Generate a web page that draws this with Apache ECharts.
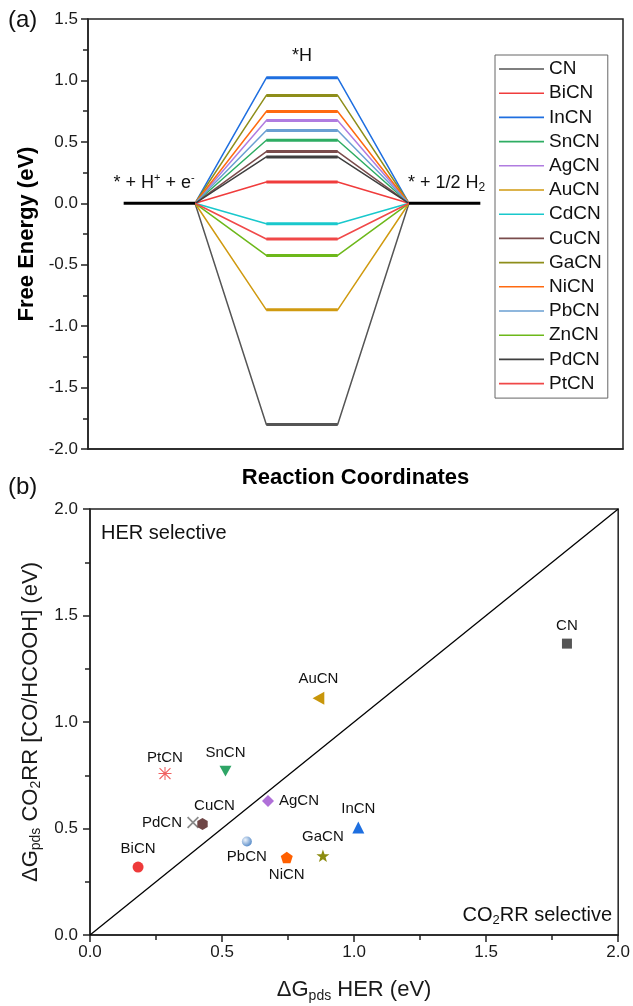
<!DOCTYPE html>
<html><head><meta charset="utf-8">
<script src="https://cdn.jsdelivr.net/npm/echarts@6/dist/echarts.min.js"></script>
<style>html,body{margin:0;padding:0;background:#fff}#c{width:633px;height:1006px}</style>
</head><body><div id="c"></div>
<script>
// ---------- data (a) ----------
const catalysts = ['CN','BiCN','InCN','SnCN','AgCN','AuCN','CdCN','CuCN','GaCN','NiCN','PbCN','ZnCN','PdCN','PtCN'];
const dGH = [-1.80, 0.174, 1.021, 0.513, 0.674, -0.867, -0.166, 0.421, 0.878, 0.747, 0.592, -0.424, 0.377, -0.291];
const stepX = [0.5, 1.5, 2.5, 3.5, 4.5, 5.5];   // reaction coordinate positions of level edges
const refLevel = 0;                              // * + H+ + e-  and  * + 1/2 H2
// ---------- data (b) ----------
const scatterNames = ['CN','AuCN','PtCN','SnCN','PdCN','CuCN','AgCN','InCN','BiCN','PbCN','NiCN','GaCN'];
const herVals = [1.806, 0.865, 0.284, 0.513, 0.390, 0.426, 0.674, 1.016, 0.182, 0.594, 0.745, 0.882];
const co2Vals = [1.368, 1.112, 0.758, 0.769, 0.528, 0.521, 0.629, 0.505, 0.319, 0.439, 0.364, 0.372];
const diagonal = [[0,0],[2,2]];

// ---------- styles ----------
const FONT = 'Liberation Sans, Arial, sans-serif';
const lineColors = {
  CN:'#555555', BiCN:'#F03C3C', InCN:'#1F6FE0', SnCN:'#2EAD63', AgCN:'#B07CE0', AuCN:'#D09A10',
  CdCN:'#19C8CC', CuCN:'#7A4C4C', GaCN:'#8E8E1A', NiCN:'#FF6A10', PbCN:'#6A9FD2', ZnCN:'#6DB81A',
  PdCN:'#3F3F3F', PtCN:'#F04848'
};
const P = {
  star: 'path://M5,0 L6.18,3.38 L9.76,3.45 L6.9,5.62 L7.94,9.05 L5,7 L2.06,9.05 L3.1,5.62 L0.24,3.45 L3.82,3.38 Z',
  pent: 'path://M5,0 L9.76,3.45 L7.94,9.05 L2.06,9.05 L0.24,3.45 Z',
  hex: 'path://M5,0 L9.33,2.5 L9.33,7.5 L5,10 L0.67,7.5 L0.67,2.5 Z',
  down: 'path://M0,0 L10,0 L5,9 Z',
  left: 'path://M9,0 L9,10 L0,5 Z',
  cross: 'path://M0,1 L1,0 L5,4 L9,0 L10,1 L6,5 L10,9 L9,10 L5,6 L1,10 L0,9 L4,5 Z',
  aster: 'path://M0,4.6 L10,4.6 L10,5.4 L0,5.4 Z M4.6,0 L5.4,0 L5.4,10 L4.6,10 Z M1.1,0.5 L9.5,8.9 L8.9,9.5 L0.5,1.1 Z M8.9,0.5 L9.5,1.1 L1.1,9.5 L0.5,8.9 Z'
};
const scatterStyle = {
  CN:   {symbol:'rect', size:10, color:'#555555', pos:'top'},
  AuCN: {symbol:P.left, size:13, color:'#C8960A', pos:'top'},
  PtCN: {symbol:P.aster, size:13, color:'#F06060', pos:'top', dist:2},
  SnCN: {symbol:P.down, size:12, color:'#2EA566', pos:'top'},
  PdCN: {symbol:P.cross, size:12, color:'#8A8A8A', pos:'left'},
  CuCN: {symbol:P.hex, size:12, color:'#6E4646', pos:'top', offset:[12,0]},
  AgCN: {symbol:'diamond', size:12, color:'#B070D8', pos:'right'},
  InCN: {symbol:'triangle', size:12, color:'#1E6FE0', pos:'top'},
  BiCN: {symbol:'circle', size:11, color:'#EE3A3A', pos:'top'},
  PbCN: {symbol:'circle', size:10, color:{type:'radial',x:0.35,y:0.35,r:0.75,colorStops:[{offset:0,color:'#eef4fb'},{offset:1,color:'#4a82c4'}]}, pos:'bottom', dist:3},
  NiCN: {symbol:P.pent, size:12, color:'#FF6000', pos:'bottom', dist:4},
  GaCN: {symbol:P.star, size:13, color:'#8C8C10', pos:'top'}
};

// ---------- series ----------
const series = [];
catalysts.forEach((name, i) => {
  const v = dGH[i], c = lineColors[name];
  series.push({
    type:'line', name, xAxisIndex:0, yAxisIndex:0, symbol:'none', silent:true,
    data:[[stepX[1],refLevel],[stepX[2],v],[stepX[3],v],[stepX[4],refLevel]],
    lineStyle:{color:c, width:1.5}, itemStyle:{color:c}
  });
  series.push({
    type:'line', name:name+'_level', xAxisIndex:0, yAxisIndex:0, symbol:'none', silent:true,
    data:[[stepX[2],v],[stepX[3],v]], lineStyle:{color:c, width:3}, z:3
  });
});
series.push({type:'line', name:'ref_left', xAxisIndex:0, yAxisIndex:0, symbol:'none', silent:true,
  data:[[stepX[0],refLevel],[stepX[1],refLevel]], lineStyle:{color:'#000', width:3}, z:4});
series.push({type:'line', name:'ref_right', xAxisIndex:0, yAxisIndex:0, symbol:'none', silent:true,
  data:[[stepX[4],refLevel],[stepX[5],refLevel]], lineStyle:{color:'#000', width:3}, z:4});

series.push({type:'line', name:'diag', xAxisIndex:1, yAxisIndex:1, symbol:'none', silent:true,
  data:diagonal, lineStyle:{color:'#000', width:1.3}});
series.push({
  type:'scatter', name:'pts', xAxisIndex:1, yAxisIndex:1, silent:true, z:5,
  data: scatterNames.map((n, i) => {
    const s = scatterStyle[n];
    return {
      name:n, value:[herVals[i], co2Vals[i]], symbol:s.symbol, symbolSize:s.size, symbolKeepAspect:true,
      itemStyle:{color:s.color, opacity:1},
      label:{show:true, formatter:n, position:s.pos, distance:s.dist==null?5:s.dist, offset:s.offset||[0,0],
        fontSize:15, fontFamily:FONT, color:'#111'}
    };
  })
});

const axisLine = {show:true, onZero:false, lineStyle:{color:'#222', width:1.5}};
const tickLbl = {fontSize:17, fontFamily:FONT, color:'#1a1a1a', formatter:v => v.toFixed(1)};
const rich = {
  sub:{fontSize:14, fontFamily:FONT, lineHeight:12, verticalAlign:'bottom', color:'#1a1a1a'},
  sup:{fontSize:12, fontFamily:FONT, lineHeight:12, verticalAlign:'top', color:'#1a1a1a'},
};

const option = {
  animation:false,
  backgroundColor:'#fff',
  grid:[
    {left:88, top:19, width:535, height:430, show:true, borderColor:'#222', borderWidth:1.5},
    {left:90, top:509, width:530, height:426, show:true, borderColor:'#222', borderWidth:1.5}
  ],
  legend:{
    data:catalysts.map(n => ({name:n, icon:'rect', itemStyle:{color:lineColors[n]}})),
    orient:'vertical', left:495, top:55,
    padding:[4.5, 6, 5, 4], itemWidth:45, itemHeight:1.6, itemGap:5.2, itemTextGap:5,
    borderColor:'#666', borderWidth:1, borderRadius:0, selectedMode:false,
    textStyle:{fontSize:19, lineHeight:19, fontFamily:FONT, color:'#111'}
  },
  xAxis:[
    {type:'value', gridIndex:0, min:0, max:7.5, axisLine, axisTick:{show:false}, axisLabel:{show:false}, splitLine:{show:false},
     name:'Reaction Coordinates', nameLocation:'middle', nameGap:18,
     nameTextStyle:{fontSize:22, fontWeight:'bold', fontFamily:FONT, color:'#000'}},
    {type:'value', gridIndex:1, min:0, max:2, interval:0.5, axisLine,
     axisTick:{show:true, inside:false, length:7, lineStyle:{color:'#222', width:1.5}},
     minorTick:{show:true, splitNumber:2, length:5, lineStyle:{color:'#222', width:1.5}},
     axisLabel:Object.assign({margin:9}, tickLbl), splitLine:{show:false}, minorSplitLine:{show:false},
     name:'ΔG{sub|pds} HER (eV)', nameLocation:'middle', nameGap:42,
     nameTextStyle:{fontSize:22, fontFamily:FONT, color:'#1a1a1a', lineHeight:26, rich}}
  ],
  yAxis:[
    {type:'value', gridIndex:0, min:-2, max:1.5, interval:0.5, axisLine,
     axisTick:{show:true, inside:false, length:7, lineStyle:{color:'#222', width:1.5}},
     minorTick:{show:true, splitNumber:2, length:5, lineStyle:{color:'#222', width:1.5}},
     axisLabel:Object.assign({margin:10}, tickLbl), splitLine:{show:false},
     name:'Free Energy (eV)', nameLocation:'middle', nameRotate:90, nameGap:50,
     nameTextStyle:{fontSize:22, fontWeight:'bold', fontFamily:FONT, color:'#000'}},
    {type:'value', gridIndex:1, min:0, max:2, interval:0.5, axisLine,
     axisTick:{show:true, inside:false, length:7, lineStyle:{color:'#222', width:1.5}},
     minorTick:{show:true, splitNumber:2, length:5, lineStyle:{color:'#222', width:1.5}},
     axisLabel:Object.assign({margin:12}, tickLbl), splitLine:{show:false},
     name:'ΔG{sub|pds} CO{sub|2}RR [CO/HCOOH] (eV)', nameLocation:'middle', nameRotate:90, nameGap:44,
     nameTextStyle:{fontSize:22, fontFamily:FONT, color:'#1a1a1a', lineHeight:26, rich}}
  ],
  graphic:[
    {type:'text', x:8, y:20, style:{text:'(a)', fontSize:24, fontFamily:FONT, fill:'#111', verticalAlign:'middle'}},
    {type:'text', x:8, y:487, style:{text:'(b)', fontSize:24, fontFamily:FONT, fill:'#111', verticalAlign:'middle'}},
    {type:'text', x:302, y:56, style:{text:'*H', fontSize:18, fontFamily:FONT, fill:'#111', align:'center', verticalAlign:'middle'}},
    {type:'text', x:154, y:183, style:{text:'* + H{sup|+} + e{sup|-}', fontSize:18, lineHeight:22, fontFamily:FONT, fill:'#111', align:'center', verticalAlign:'middle',
      rich:{sup:{fontSize:11, lineHeight:10, verticalAlign:'top', fontFamily:FONT, fill:'#111'}}}},
    {type:'text', x:408, y:183, style:{text:'* + 1/2 H{sub|2}', fontSize:18, lineHeight:22, fontFamily:FONT, fill:'#111', align:'left', verticalAlign:'middle',
      rich:{sub:{fontSize:12, lineHeight:10, verticalAlign:'bottom', fontFamily:FONT, fill:'#111'}}}},
    {type:'text', x:101, y:533, style:{text:'HER selective', fontSize:20, fontFamily:FONT, fill:'#111', verticalAlign:'middle'}},
    {type:'text', x:612, y:915, style:{text:'CO{sub|2}RR selective', fontSize:20, lineHeight:24, fontFamily:FONT, fill:'#111', align:'right', verticalAlign:'middle',
      rich:{sub:{fontSize:13, lineHeight:10, verticalAlign:'bottom', fontFamily:FONT, fill:'#111'}}}}
  ],
  series
};
const chart = echarts.init(document.getElementById('c'), null, {renderer:'canvas'});
chart.setOption(option);
</script></body></html>
